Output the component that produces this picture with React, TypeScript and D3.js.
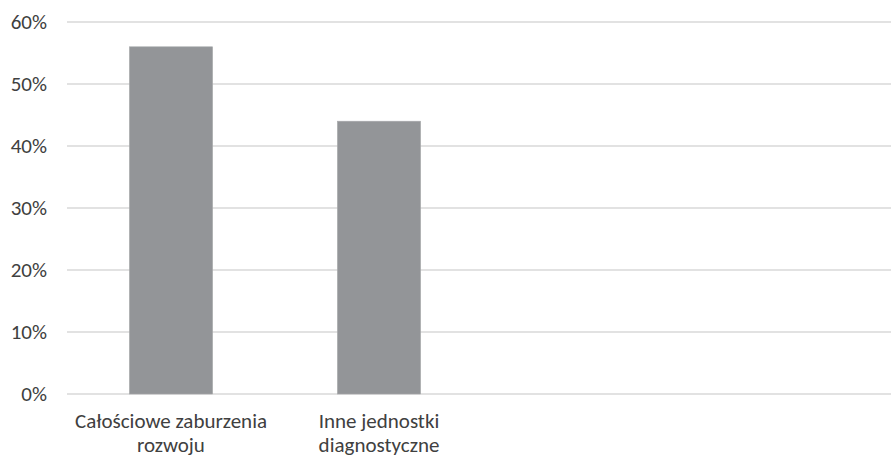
import React from "react";
import * as d3 from "d3";

const categories = ["Całościowe zaburzenia rozwoju", "Inne jednostki diagnostyczne", "", " "];
const categoryLines = [["Całościowe zaburzenia", "rozwoju"], ["Inne jednostki", "diagnostyczne"], [], []];
const values = [0.56, 0.44, null, null];
const yTicks = [0, 0.1, 0.2, 0.3, 0.4, 0.5, 0.6];

const W = 891;
const H = 457;

export default function App() {
  const x = d3.scaleBand<string>().domain(categories).range([67, 899]).paddingInner(0.6).paddingOuter(0.3);
  const y = d3.scaleLinear().domain([0, 0.6]).range([394, 22]);
  const fmt = d3.format(".0%");
  const font = "Carlito, 'Open Sans', 'Liberation Sans', sans-serif";
  return (
    <svg width={W} height={H} style={{ position: "absolute", left: 0, top: 0, background: "#fff" }}>
      {yTicks.map((t) => (
        <g key={t}>
          <line x1={67} x2={W} y1={y(t)} y2={y(t)} stroke="#d9d9d9" strokeWidth={1.3} />
          <text x={47} y={y(t)} dy="0.35em" textAnchor="end" fontFamily={font} fontSize={21} fill="#404040">
            {fmt(t)}
          </text>
        </g>
      ))}
      {categories.map((c, i) =>
        values[i] == null ? null : (
          <rect key={c} x={x(c)} y={y(values[i] as number)} width={x.bandwidth()} height={y(0) - y(values[i] as number)} fill="#939598" stroke="#a7a9ab" strokeWidth={0.6} />
        )
      )}
      {categories.map((c, i) => (
        <text key={"l" + i} textAnchor="middle" fontFamily={font} fontSize={21} fill="#404040">
          {categoryLines[i].map((ln, j) => (
            <tspan key={j} x={(x(c) as number) + x.bandwidth() / 2} y={428 + j * 24}>
              {ln}
            </tspan>
          ))}
        </text>
      ))}
    </svg>
  );
}
